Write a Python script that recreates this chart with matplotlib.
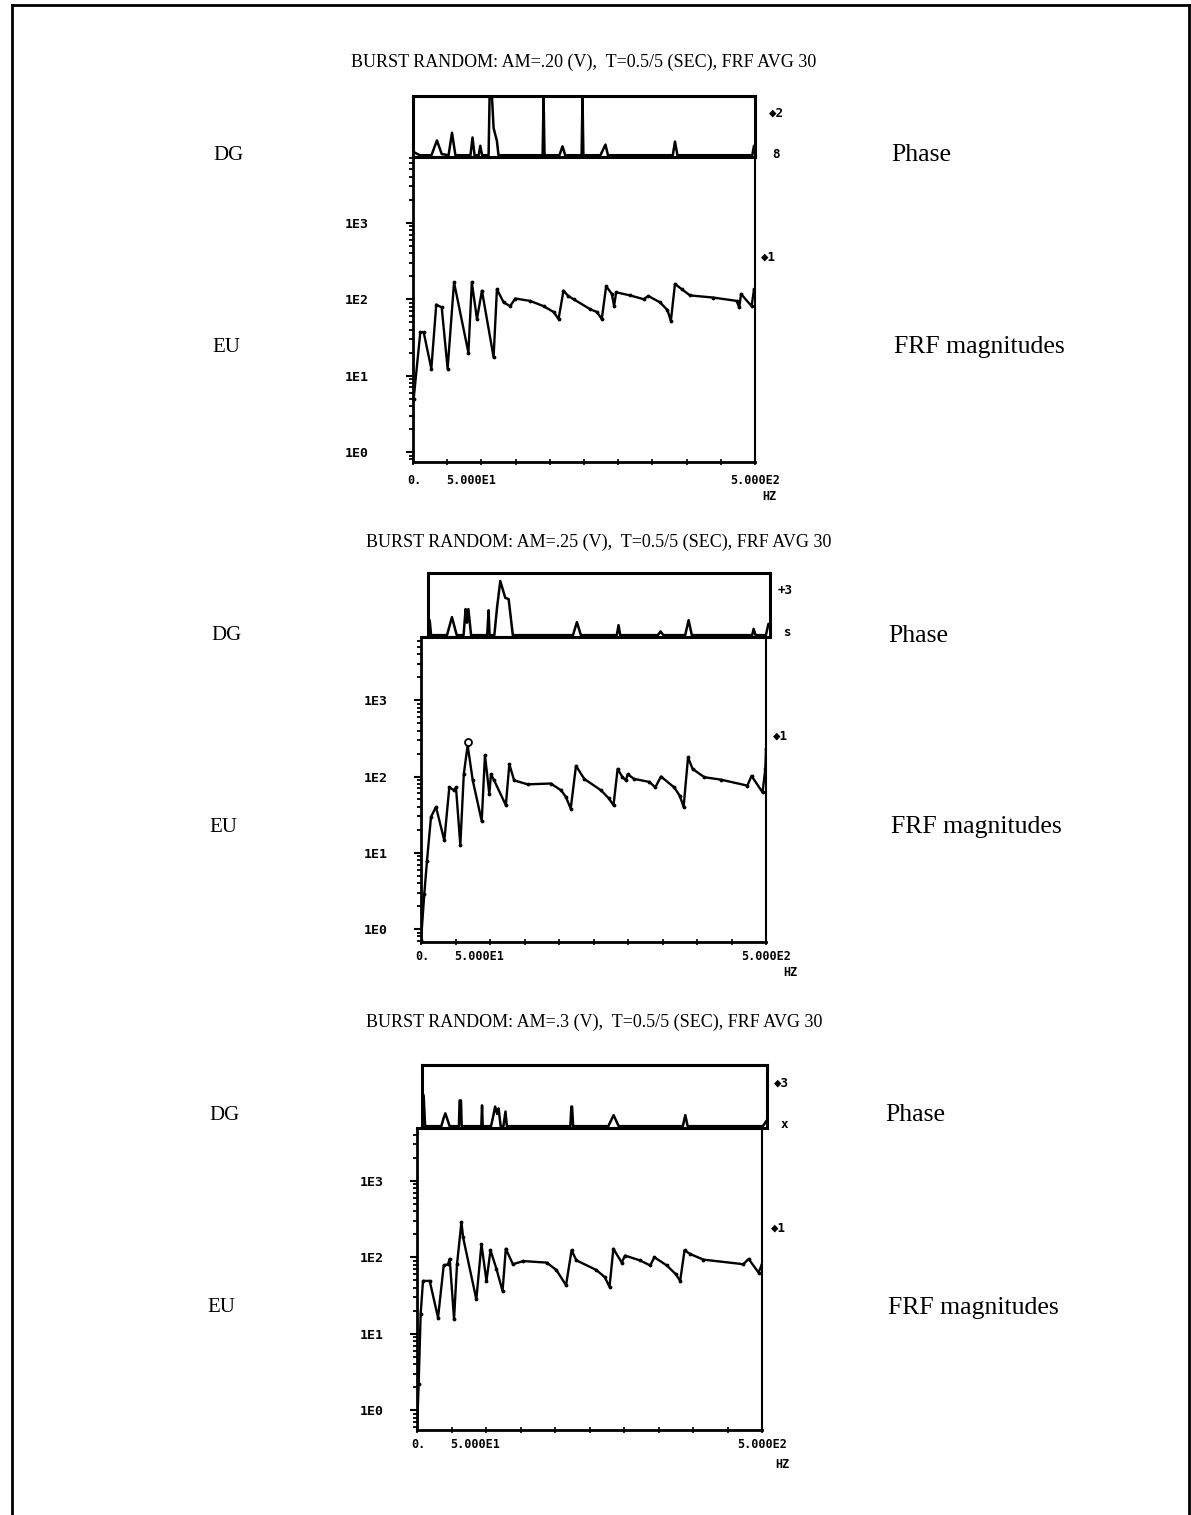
"""
Burst random FRF measurements: phase strip + FRF magnitude, three excitation levels
"""
import matplotlib
matplotlib.use("Agg")
import matplotlib.pyplot as plt
from matplotlib.lines import Line2D
import numpy as np

# ---- data (frequency in Hz, magnitude in EU) ----
titles = ["BURST RANDOM: AM=.20 (V),  T=0.5/5 (SEC), FRF AVG 30",
          "BURST RANDOM: AM=.25 (V),  T=0.5/5 (SEC), FRF AVG 30",
          "BURST RANDOM: AM=.3 (V),  T=0.5/5 (SEC), FRF AVG 30"]

freq_1 = [1, 10.7, 15.6, 26.8, 34, 42, 50.6, 60, 81, 86, 93.5, 100.8, 117.8, 122.7,
          132.4, 142, 149.5, 171, 191, 205.5, 212.8, 220, 227, 234.7, 259, 268.8, 276,
          282.4, 290.7, 294, 297, 317.5, 337, 344, 361, 372, 377, 383, 393, 405, 439,
          473, 477, 479.6, 495, 498.6]
mag_1 = [5.0, 37, 37, 12.3, 85, 78, 12.3, 166, 20, 166, 55, 129, 17.4, 135,
         91, 81, 102, 95, 81, 68, 55, 129, 110, 100, 74, 68, 55,
         148, 117, 81, 123, 112, 100, 110, 91, 72, 52, 158, 135, 112, 105,
         95, 78, 117, 81, 135]

freq_2 = [0, 4.8, 8.7, 14.5, 21.7, 33.8, 41, 48, 50.7, 57, 62, 67.6, 75, 88, 92.7, 99,
          101.4, 106, 123, 128, 135, 154.6, 188, 203, 210, 217, 224.6, 236.7, 260.8,
          272, 279, 285, 292, 297, 299.5, 309, 331, 339.5, 347.8, 367, 375, 380.6, 387,
          393.6, 410.6, 434.7, 473, 479, 495, 499, 500]
mag_2 = [0.71, 2.9, 7.9, 29.5, 40, 14.5, 72, 66, 72, 12.6, 107, 257, 89, 26, 191, 59,
         107, 89, 42, 145, 89, 79, 81, 66, 54, 38, 138, 93, 66,
         52, 42, 126, 98, 89, 107, 93, 85, 72, 100, 72, 56, 40, 178,
         126, 98, 91, 76, 102, 62, 126, 229]

freq_3 = [0, 2.4, 5.3, 8.7, 18.4, 30.5, 38.7, 45, 47.4, 53.7, 58, 64.4, 66.8, 86, 93.4,
          100.7, 106.5, 115, 124, 128.7, 139, 154, 188, 202, 216, 224, 231, 260, 272,
          279, 284.6, 296.7, 301.5, 323, 338, 344, 362, 375, 381.4, 387.7, 396, 415,
          473, 480.6, 495, 500]
mag_3 = [0.54, 2.2, 18.2, 49, 49, 16.2, 78, 81, 95, 15.5, 81, 288, 182, 28, 148,
         49, 123, 71, 36, 129, 81, 89, 85, 68, 43, 123, 91, 68, 55,
         41, 129, 85, 105, 91, 78, 100, 78, 60, 49, 123, 110, 93,
         81, 95, 63, 81]

# phase traces: relative height inside the phase strip (0 = baseline, 1 = top)
pfreq_1 = [0, 10, 27, 35, 42, 52, 57, 62, 84, 87, 90, 96, 98.4, 101, 110.5, 112, 115.4,
           117.8, 122.7, 125, 189.5, 190.9, 192.3, 214, 218.6, 222.5, 246.5, 247.8, 249.1,
           274, 281.4, 285, 379.8, 383, 386.6, 496, 498.6, 500]
phase_1 = [0.06, 0.0, 0.0, 0.25, 0.02, 0.0, 0.38, 0.0, 0.0, 0.30, 0.0, 0.0, 0.16, 0.0,
           0.0, 1.0, 1.0, 0.46, 0.24, 0.0, 0.0, 1.0, 0.0, 0.0, 0.15, 0.0, 0.0, 1.0, 0.0,
           0.0, 0.18, 0.0, 0.0, 0.23, 0.0, 0.0, 0.16, 0.05]

pfreq_2 = [0, 2.5, 4.5, 27.8, 35, 42, 52, 55, 57, 59, 63, 86.5, 88.6, 90, 97, 101, 105.7,
           113, 117.9, 124, 212, 217.7, 223.5, 276, 278.6, 281, 336, 340, 344, 376, 381,
           385.7, 474, 476, 479, 494, 497.7, 500]
phase_2 = [0.0, 0.24, 0.0, 0.0, 0.29, 0.0, 0.0, 0.42, 0.2, 0.42, 0.0, 0.0, 0.40, 0.0,
           0.0, 0.45, 0.87, 0.60, 0.58, 0.0, 0.0, 0.21, 0.0, 0.0, 0.16, 0.0, 0.0, 0.06,
           0.0, 0.0, 0.24, 0.0, 0.0, 0.10, 0.0, 0.0, 0.18, 0.18]

pfreq_3 = [0, 2.4, 4.5, 28, 31, 33.8, 36.5, 40, 53.5, 54.5, 56.5, 57.5, 86, 87, 88, 100,
           103, 106, 109, 111, 114, 118, 121, 123, 215, 216.5, 217.5, 219, 270, 277.7,
           285, 378, 381.6, 385, 494, 497, 500]
phase_3 = [0.55, 0.50, 0.0, 0.0, 0.12, 0.21, 0.12, 0.0, 0.0, 0.42, 0.42, 0.0, 0.0, 0.34,
           0.0, 0.0, 0.15, 0.32, 0.2, 0.29, 0.0, 0.0, 0.24, 0.0, 0.0, 0.32, 0.32, 0.0,
           0.0, 0.18, 0.0, 0.0, 0.18, 0.0, 0.0, 0.05, 0.1]

ytick_vals = [1, 10, 100, 1000]
ytick_labels = ["1E0", "1E1", "1E2", "1E3"]
trace_marks = [["\u25c62", "8", "\u25c61"], ["+3", "s", "\u25c61"], ["\u25c63", "x", "\u25c61"]]

# ---- layout in pixels of the 1191x1515 page ----
W, H = 1191, 1515
layout = [
    dict(title_y=62, phase=(413, 96, 755, 157), mag=(413, 157, 755, 462),
         ylog=(-0.13, 3.86), pad=29, side_y=(155, 347), side_x=(229, 921, 226, 979),
         xl_y=481, hz=(769, 497), marks=[(776, 113), (776, 154), (768, 257)]),
    dict(title_y=542, phase=(428, 573, 770, 637), mag=(421, 637, 766, 942),
         ylog=(-0.17, 3.83), pad=21, side_y=(636, 827), side_x=(227, 918, 223, 976),
         xl_y=957, hz=(790, 973), marks=[(785, 591), (788, 632), (780, 736)]),
    dict(title_y=1022, phase=(422, 1065, 767, 1128), mag=(417, 1128, 762, 1430),
         ylog=(-0.26, 3.69), pad=21, side_y=(1115, 1308), side_x=(224, 915, 221, 973),
         xl_y=1445, hz=(782, 1465), marks=[(781, 1083), (784, 1124), (778, 1228)]),
]

freqs = [freq_1, freq_2, freq_3]
mags = [mag_1, mag_2, mag_3]
pfreqs = [pfreq_1, pfreq_2, pfreq_3]
phases = [phase_1, phase_2, phase_3]

fig = plt.figure(figsize=(W / 100, H / 100), dpi=100)


def px_axes(box):
    x0, y0, x1, y1 = box
    return fig.add_axes([x0 / W, 1 - y1 / H, (x1 - x0) / W, (y1 - y0) / H])


def fx(x):
    return x / W


def fy(y):
    return 1 - y / H


serif = "Liberation Serif"
mono = ["DejaVu Sans Mono", "DejaVu Sans"]

for i, lay in enumerate(layout):
    # phase strip
    axp = px_axes(lay["phase"])
    axp.plot(pfreqs[i], phases[i], color="black", lw=1.8)
    axp.set_xlim(0, 500)
    axp.set_ylim(-0.03, 1.0)
    axp.set_xticks([])
    axp.set_yticks([])
    for sp in axp.spines.values():
        sp.set_linewidth(2.2)

    # FRF magnitude
    axm = px_axes(lay["mag"])
    axm.semilogy(freqs[i], mags[i], color="black", lw=1.7,
                 marker=".", markersize=3.5)
    if i == 1:
        k = int(np.argmax(mags[i][:20]))
        axm.plot(freqs[i][k], mags[i][k] * 1.12, marker="o", mfc="white",
                 mec="black", ms=5, mew=1.3)
    axm.set_xlim(0, 500)
    axm.set_ylim(10 ** lay["ylog"][0], 10 ** lay["ylog"][1])
    axm.set_yticks(ytick_vals)
    axm.set_yticklabels(ytick_labels, family=mono, weight="bold", fontsize=9.5)
    axm.tick_params(axis="y", which="major", direction="out", length=5,
                    width=1.5, pad=lay["pad"] - 2)
    axm.tick_params(axis="y", which="minor", direction="out", length=3, width=1.3)
    axm.set_xticks(np.arange(0, 501, 50))
    axm.set_xticklabels([])
    axm.tick_params(axis="x", direction="inout", length=5, width=1.2)
    axm.spines["top"].set_linewidth(2.2)
    axm.spines["left"].set_linewidth(2.0)
    axm.spines["bottom"].set_linewidth(2.0)
    axm.spines["right"].set_linewidth(1.5)

    # x labels of the analyser plot
    xt = axm.get_xaxis_transform()
    lab_y = (lay["mag"][3] - lay["xl_y"]) / (lay["mag"][3] - lay["mag"][1])
    axm.text(2, lab_y, "0.", transform=xt, ha="center", va="center",
             family=mono, weight="bold", fontsize=8.5)
    axm.text(48, lab_y, "5.000E1", transform=xt, ha="left", va="center",
             family=mono, weight="bold", fontsize=8.5)
    axm.text(500, lab_y, "5.000E2", transform=xt, ha="center", va="center",
             family=mono, weight="bold", fontsize=8.5)
    fig.text(fx(lay["hz"][0]), fy(lay["hz"][1]), "HZ", ha="center", va="center",
             family=mono, weight="bold", fontsize=8.5)

    # trace markers at the right edge
    for (mx, my), s in zip(lay["marks"], trace_marks[i]):
        fig.text(fx(mx), fy(my), s, ha="center", va="center",
                 family=mono, weight="bold", fontsize=9)

    # titles and side captions
    fig.text(0.5 * (lay["phase"][0] + lay["phase"][2]) / W,
             fy(lay["title_y"]), titles[i], ha="center", va="center",
             family=serif, fontsize=13)
    yp, ym = lay["side_y"]
    xdg, xph, xeu, xfrf = lay["side_x"]
    fig.text(fx(xdg), fy(yp), "DG", ha="center", va="center", family=serif, fontsize=15)
    fig.text(fx(xph), fy(yp), "Phase", ha="center", va="center", family=serif, fontsize=18.5)
    fig.text(fx(xeu), fy(ym), "EU", ha="center", va="center", family=serif, fontsize=15)
    fig.text(fx(xfrf), fy(ym), "FRF magnitudes", ha="center", va="center",
             family=serif, fontsize=18.5)

# page frame (runs off the bottom of the scan)
frame_kw = dict(color="black", lw=2.0, transform=fig.transFigure)
fig.add_artist(Line2D([fx(12), fx(12)], [fy(5), -0.01], **frame_kw))
fig.add_artist(Line2D([fx(12), fx(1189)], [fy(5), fy(5)], **frame_kw))
fig.add_artist(Line2D([fx(1189), fx(1189)], [fy(5), -0.01], **frame_kw))

fig.savefig("out.png", dpi=100)
